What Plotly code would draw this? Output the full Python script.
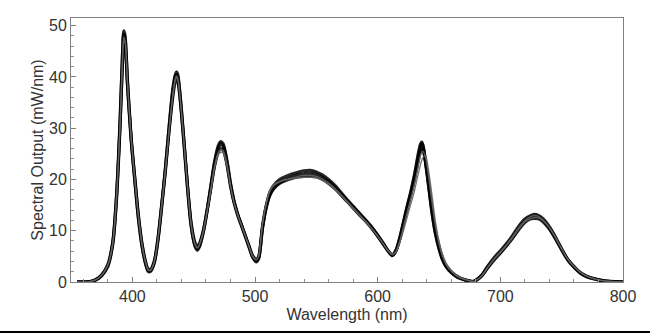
import plotly.graph_objects as go

wavelength = [355, 365, 370, 375, 380, 384, 387, 390, 392, 393, 394, 396, 399, 402, 405,
              408, 411, 413, 415, 418, 421, 424, 427, 430, 433, 435, 436, 437, 439, 442,
              445, 448, 451, 453, 455, 458, 461, 464, 467, 470, 472, 474, 477, 480, 483,
              486, 489, 492, 495, 498, 501, 503, 506, 509, 512, 515, 520, 525, 530, 535,
              540, 545, 550, 555, 560, 565, 570, 575, 580, 585, 590, 595, 600, 605, 609,
              612, 615, 618, 621, 624, 627, 630, 633, 635, 636, 637, 639, 641, 644, 647,
              650, 653, 656, 660, 665, 670, 675, 678, 680, 685, 690, 695, 700, 705, 710,
              715, 720, 725, 728, 731, 735, 740, 745, 750, 755, 760, 765, 770, 775, 780,
              785, 790, 795, 800]

spectrum_a = [
    0, 0.05, 0.4, 1.3, 3.2,
    7.5, 16, 31, 44, 48.3,
    47.5, 39, 28, 20, 12.5,
    7, 3.5, 2.2, 2.3, 4,
    8.5, 15, 22, 30, 37,
    40, 40.5, 40, 36, 27.5,
    18.5, 11, 7.3, 6.5, 7.3,
    10, 14, 18.5, 23, 26,
    27, 26.5, 23.5, 19, 15.5,
    13, 11, 9, 7, 5,
    4.2, 4.8, 10.5, 14.5, 17,
    18.3, 19.4, 20, 20.5, 20.9,
    21.1, 21.2, 21, 20.4, 19.6,
    18.5, 17.2, 15.9, 14.6, 13.3,
    12, 10.6, 9.0, 7.3, 5.9,
    5.2, 6.2, 8.5, 11.5, 14.5,
    17.3, 20.5, 24.2, 26.5, 27,
    26.5, 23.5, 20, 14.3, 9.8,
    6.7, 4.4, 3, 1.9, 1.0,
    0.5, 0.2, 0.1, 0.3, 1.3,
    3.0, 4.5, 5.8, 7.2, 8.8,
    10.5, 11.9, 12.7, 12.9, 12.7,
    12, 10.5, 8.5, 6.3, 4.3,
    2.9, 1.8, 1.1, 0.7, 0.4,
    0.2, 0.1, 0.05, 0]

spectrum_b = [
    0, 0.05, 0.45, 1.4, 3.4,
    7.8, 16.5, 30.5, 42.5, 46.3,
    46, 38.5, 28.2, 20.5, 13,
    7.4, 3.8, 2.5, 2.5, 4.2,
    8.7, 15.2, 22, 29.5, 36,
    39, 39.5, 39.2, 35.5, 27.5,
    18.8, 11.5, 7.8, 7, 7.7,
    10.2, 14, 18.3, 22.5, 25.3,
    26, 25.7, 23, 18.8, 15.5,
    13.1, 11.1, 9.1, 7.1, 5.2,
    4.5, 5, 10.3, 14.3, 16.8,
    18.1, 19.2, 19.8, 20.2, 20.5,
    20.6, 20.6, 20.5, 20, 19.2,
    18.2, 17, 15.7, 14.4, 13.1,
    11.9, 10.5, 8.9, 7.2, 5.9,
    5.3, 6.2, 8.3, 11.2, 14.2,
    16.9, 19.9, 23.5, 25.5, 26,
    25.8, 23.5, 20.3, 14.8, 10.2,
    7, 4.6, 3.1, 2, 1.1,
    0.5, 0.2, 0.1, 0.3, 1.2,
    2.8, 4.3, 5.6, 7, 8.5,
    10.2, 11.6, 12.3, 12.4, 12.3,
    11.7, 10.3, 8.4, 6.3, 4.4,
    3, 1.9, 1.2, 0.75, 0.45,
    0.2, 0.1, 0.05, 0]

spectrum_c = [
    0, 0.05, 0.35, 1.2, 3.0,
    7.3, 15.8, 31.5, 45, 49,
    48.3, 39.5, 28, 19.8, 12.2,
    6.8, 3.3, 2, 2.1, 3.8,
    8.3, 15, 22.3, 30.5, 37.8,
    40.5, 41, 40.6, 36.5, 27.8,
    18.5, 10.8, 7, 6.2, 7,
    9.8, 14, 18.8, 23.5, 26.6,
    27.4, 27, 24, 19.4, 15.8,
    13.2, 11.1, 9, 6.9, 4.8,
    3.9, 4.5, 10.6, 14.8, 17.5,
    18.8, 20, 20.6, 21.1, 21.4,
    21.7, 21.8, 21.5, 20.9, 20,
    18.9, 17.5, 16.1, 14.8, 13.5,
    12.2, 10.8, 9.2, 7.4, 5.9,
    5.1, 6.1, 8.6, 11.7, 14.8,
    17.7, 21, 25, 27, 27.3,
    26.6, 23.3, 19.6, 13.9, 9.4,
    6.4, 4.2, 2.9, 1.8, 0.9,
    0.45, 0.15, 0.1, 0.35, 1.4,
    3.2, 4.8, 6.1, 7.5, 9.1,
    10.9, 12.3, 13, 13.2, 13,
    12.3, 10.8, 8.8, 6.5, 4.4,
    3, 1.8, 1.1, 0.7, 0.4,
    0.2, 0.1, 0.05, 0]

spectrum_g1 = [
    0, 0.05, 0.4, 1.3, 3.3,
    7.6, 16.2, 30.5, 43, 47,
    46.8, 39, 28.3, 20.3, 12.8,
    7.2, 3.7, 2.4, 2.4, 4.1,
    8.6, 15.1, 22, 29.5, 36.3,
    39.3, 39.8, 39.5, 35.8, 27.6,
    18.7, 11.2, 7.5, 6.7, 7.5,
    10, 13.8, 18, 22.2, 24.8,
    25.3, 25.2, 22.8, 18.7, 15.4,
    13.1, 11.1, 9.1, 7.1, 5.1,
    4.4, 5.1, 11.2, 15.2, 17.8,
    18.9, 19.6, 19.9, 20.1, 20.3,
    20.4, 20.4, 20.3, 19.8, 19.1,
    18.1, 16.9, 15.6, 14.3, 13,
    11.8, 10.4, 8.9, 7.3, 6.0,
    5.4, 5.9, 7.6, 10, 12.6,
    15.2, 17.8, 21, 23, 23.8,
    24.3, 24.6, 22.5, 17.5, 12,
    8, 5.3, 3.6, 2.3, 1.2,
    0.6, 0.25, 0.1, 0.3, 1.2,
    2.9, 4.4, 5.7, 7.1, 8.6,
    10.3, 11.7, 12.4, 12.6, 12.5,
    11.9, 10.6, 8.7, 6.5, 4.5,
    3.1, 2, 1.2, 0.75, 0.45,
    0.2, 0.1, 0.05, 0]

spectrum_g2 = [
    0, 0.05, 0.4, 1.3, 3.2,
    7.4, 15.9, 31, 44, 47.8,
    47.2, 39.2, 28.1, 20.1, 12.6,
    7.1, 3.6, 2.3, 2.3, 4,
    8.5, 15, 21.8, 29.7, 36.5,
    39.7, 40.2, 39.8, 36, 27.6,
    18.6, 11.1, 7.4, 6.6, 7.4,
    10, 13.9, 18.2, 22.6, 25.3,
    25.8, 25.6, 23.2, 18.9, 15.5,
    13, 11, 9, 7, 5,
    4.3, 5, 11, 15, 17.6,
    18.7, 19.5, 20, 20.3, 20.6,
    20.8, 20.8, 20.6, 20.1, 19.3,
    18.3, 17.1, 15.8, 14.5, 13.2,
    11.9, 10.5, 9.0, 7.3, 5.9,
    5.3, 6, 8, 10.8, 13.6,
    16.3, 19.1, 22.5, 24.8, 25.3,
    25.5, 24.3, 21.5, 16, 11,
    7.4, 4.9, 3.3, 2.1, 1.1,
    0.55, 0.2, 0.1, 0.3, 1.3,
    3, 4.6, 5.9, 7.3, 8.9,
    10.6, 12, 12.8, 13, 12.8,
    12.1, 10.6, 8.6, 6.4, 4.4,
    3, 1.9, 1.2, 0.72, 0.42,
    0.2, 0.1, 0.05, 0]

x_ticks = [400, 500, 600, 700, 800]
y_ticks = [0, 10, 20, 30, 40, 50]

FONT = "Liberation Sans, Arial, Helvetica, sans-serif"

fig = go.Figure()

black_series = [(spectrum_b, 3.0), (spectrum_c, 3.0), (spectrum_a, 3.4)]
for ys, w in black_series:
    fig.add_trace(go.Scatter(
        x=wavelength, y=ys, mode="lines",
        line=dict(color="rgba(0,0,0,0.85)", width=w, shape="spline", smoothing=0.8),
        hoverinfo="skip", showlegend=False))

for ys in (spectrum_g1, spectrum_g2):
    fig.add_trace(go.Scatter(
        x=wavelength, y=ys, mode="lines",
        line=dict(color="rgba(100,100,100,0.9)", width=1.3, shape="spline", smoothing=0.8),
        hoverinfo="skip", showlegend=False))

axis_common = dict(
    showline=True, linecolor="#808080", linewidth=1, mirror=True,
    ticks="inside", ticklen=5, tickcolor="#808080", tickwidth=1,
    showgrid=False, zeroline=False,
    tickfont=dict(family=FONT, size=16, color="#333333"),
)

fig.update_xaxes(
    range=[350, 800], tickvals=x_ticks,
    minor=dict(dtick=20, tick0=0, ticks="inside", ticklen=3, tickcolor="#909090"),
    title=dict(text="Wavelength (nm)", font=dict(family=FONT, size=16, color="#333333"),
               standoff=4),
    **axis_common)

fig.update_yaxes(
    range=[0, 51.5], tickvals=y_ticks,
    minor=dict(dtick=2, tick0=0, ticks="inside", ticklen=3, tickcolor="#909090"),
    title=dict(text="Spectral Output (mW/nm)", font=dict(family=FONT, size=16, color="#333333"),
               standoff=1),
    **axis_common)

fig.add_shape(type="rect", xref="paper", yref="paper",
              x0=-0.2, x1=1.2, y0=-0.2, y1=-0.186,
              line=dict(width=0), fillcolor="black", layer="above")

fig.update_layout(
    width=650, height=333,
    margin=dict(l=71, r=27, t=18, b=51),
    paper_bgcolor="white", plot_bgcolor="white",
)

fig.write_html("out.html")
